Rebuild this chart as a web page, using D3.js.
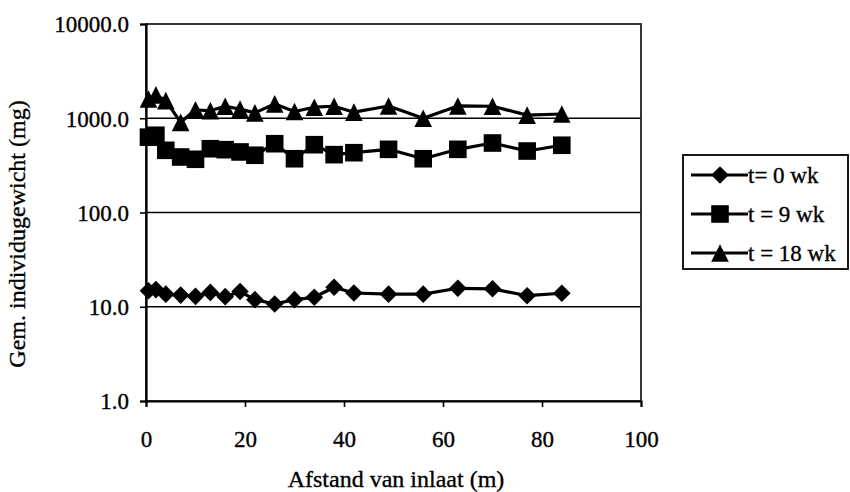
<!DOCTYPE html>
<html>
<head>
<meta charset="utf-8">
<script src="https://cdn.jsdelivr.net/npm/d3@7"></script>
<style>
  body { margin: 0; background: #fff; }
  svg text { font-family: "Liberation Serif", "Times New Roman", serif; fill: #000; stroke: #000; stroke-width: 0.35px; }
</style>
</head>
<body>
<svg id="chart" width="850" height="492"></svg>
<script>
// afstand van inlaat (m)
const afstand = [0.5, 2, 4, 7, 10, 13, 16, 19, 22, 26, 30, 34, 38, 42, 49, 56, 63, 70, 77, 84];
// gem. individugewicht (mg)
const week0 = [14.8, 15.2, 13.6, 13.3, 12.9, 14.2, 12.8, 14.5, 11.9, 10.7, 11.9, 12.6, 16.1, 14.0, 13.6, 13.6, 15.7, 15.5, 13.1, 13.9];
const week9 = [630, 660, 457, 388, 367, 475, 464, 439, 405, 537, 372, 524, 411, 431, 468, 372, 468, 546, 449, 517];
const week18 = [1600, 1770, 1540, 905, 1230, 1200, 1340, 1250, 1140, 1420, 1180, 1310, 1340, 1160, 1350, 1000, 1350, 1340, 1080, 1110];

const seriesNames = ["t= 0 wk", "t = 9 wk", "t = 18 wk"];
const xTicks = [0, 20, 40, 60, 80, 100];
const yTicks = [1, 10, 100, 1000, 10000];

const svg = d3.select("#chart");
const plot = { left: 146, right: 641, top: 24, bottom: 401 };

const x = d3.scaleLinear().domain([0, 100]).range([plot.left, plot.right]);
const y = d3.scaleLog().domain([1, 10000]).range([plot.bottom, plot.top]);

// marker shapes, centred on the point like the spreadsheet ones
const r = 8.8;
const shapes = {
  diamond: `M0,${-r}L${r},0L0,${r}L${-r},0Z`,
  square: `M${-r},${-r}H${r}V${r}H${-r}Z`,
  triangle: `M0,${-r}L${r},${r}H${-r}Z`
};

// gridlines
svg.append("g")
  .selectAll("line")
  .data(yTicks.filter(d => d > 1 && d < 10000))
  .join("line")
  .attr("x1", plot.left).attr("x2", plot.right)
  .attr("y1", d => y(d)).attr("y2", d => y(d))
  .attr("stroke", "#000").attr("stroke-width", 1.6);

// plot frame
svg.append("rect")
  .attr("x", plot.left).attr("y", plot.top)
  .attr("width", plot.right - plot.left).attr("height", plot.bottom - plot.top)
  .attr("fill", "none").attr("stroke", "#222").attr("stroke-width", 1.8);

// axes
const xAxis = d3.axisBottom(x).tickValues(xTicks).tickSize(6).tickPadding(24).tickFormat(d3.format("d"));
const gx = svg.append("g").attr("transform", `translate(0,${plot.bottom})`).call(xAxis);
gx.select(".domain").attr("stroke-width", 2);
gx.selectAll(".tick line").attr("stroke-width", 1.6);
gx.selectAll("text").style("font-size", "23px").attr("font-family", null);

const yAxis = d3.axisLeft(y).tickValues(yTicks).tickSize(6).tickPadding(11).tickFormat(d3.format(".1f"));
const gy = svg.append("g").attr("transform", `translate(${plot.left},0)`).call(yAxis);
gy.select(".domain").attr("stroke-width", 2.2);
gy.selectAll(".tick line").attr("stroke-width", 1.6);
gy.selectAll("text").style("font-size", "23px").attr("font-family", null).attr("dy", "0.34em");

// axis titles
svg.append("text")
  .attr("x", 396).attr("y", 487)
  .attr("text-anchor", "middle").style("font-size", "24px")
  .text("Afstand van inlaat (m)");

svg.append("text")
  .attr("transform", "translate(25,234) rotate(-90)")
  .attr("text-anchor", "middle").style("font-size", "24px")
  .text("Gem. individugewicht (mg)");

// series
const series = [
  { name: seriesNames[0], values: week0, shape: shapes.diamond },
  { name: seriesNames[1], values: week9, shape: shapes.square },
  { name: seriesNames[2], values: week18, shape: shapes.triangle }
];

const line = d3.line().x(d => x(d[0])).y(d => y(d[1]));

series.forEach(s => {
  const pts = afstand.map((a, i) => [a, s.values[i]]);
  svg.append("path")
    .attr("d", line(pts))
    .attr("fill", "none").attr("stroke", "#000").attr("stroke-width", 3.2)
    .attr("stroke-linejoin", "round");
  svg.append("g")
    .selectAll("path")
    .data(pts)
    .join("path")
    .attr("d", s.shape)
    .attr("transform", d => `translate(${x(d[0])},${y(d[1])})`)
    .attr("fill", "#000");
});

// legend
const legend = svg.append("g");
legend.append("rect")
  .attr("x", 683).attr("y", 155).attr("width", 165).attr("height", 114)
  .attr("fill", "#fff").attr("stroke", "#000").attr("stroke-width", 1.8);

const legendY = d3.scalePoint().domain(seriesNames).range([175, 253]);
series.forEach(s => {
  const ly = legendY(s.name);
  legend.append("line")
    .attr("x1", 691).attr("x2", 748).attr("y1", ly).attr("y2", ly)
    .attr("stroke", "#000").attr("stroke-width", 3.2);
  legend.append("path")
    .attr("d", s.shape)
    .attr("transform", `translate(720,${ly})`)
    .attr("fill", "#000");
  legend.append("text")
    .attr("x", 748).attr("y", ly + 8)
    .style("font-size", "23px")
    .text(s.name);
});
</script>
</body>
</html>
